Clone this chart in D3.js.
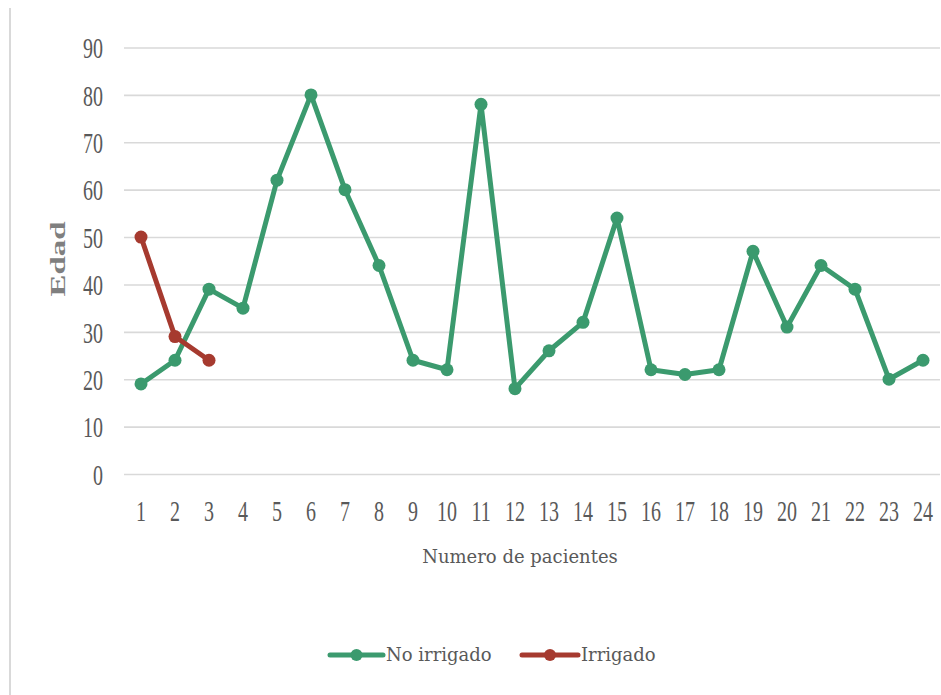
<!DOCTYPE html>
<html>
<head>
<meta charset="utf-8">
<script src="https://cdn.jsdelivr.net/npm/d3@7"></script>
<style>
  body { margin: 0; background: #fff; }
  .tick text { font-family: "Liberation Serif", serif; font-size: 20px; fill: #595959; }
  .axis-title { font-family: "DejaVu Serif", serif; font-size: 18px; fill: #595959; }
  .legend-label { font-family: "DejaVu Serif", serif; font-size: 18px; fill: #595959; }
</style>
</head>
<body>
<div id="chart"></div>
<script>
// Data
const patients = d3.range(1, 25).map(String);
const noIrrigado = [19, 24, 39, 35, 62, 80, 60, 44, 24, 22, 78, 18, 26, 32, 54, 22, 21, 22, 47, 31, 44, 39, 20, 24];
const irrigado = [50, 29, 24];
const yTicks = [0, 10, 20, 30, 40, 50, 60, 70, 80, 90];
const seriesNames = ["No irrigado", "Irrigado"];

// Setup
const width = 941, height = 695;
const plot = { left: 124, right: 940, top: 47.5, bottom: 474 };
const colors = { "No irrigado": "#3b9a6e", "Irrigado": "#a63a2f" };
const textScaleY = 1.5;

const svg = d3.select("#chart")
  .append("svg")
  .attr("width", width)
  .attr("height", height);

// Scales
const x = d3.scaleBand()
  .domain(patients)
  .range([plot.left, plot.right]);

const y = d3.scaleLinear()
  .domain([0, 90])
  .range([plot.bottom, plot.top]);

// Chart area left border
svg.append("line")
  .attr("x1", 10).attr("x2", 10)
  .attr("y1", 8).attr("y2", height)
  .attr("stroke", "#d9d9d9")
  .attr("stroke-width", 2);

// Y axis with gridlines
const yAxis = svg.append("g")
  .attr("transform", `translate(${plot.left}, 0)`)
  .call(d3.axisLeft(y)
    .tickValues(yTicks)
    .tickSize(-(plot.right - plot.left))
    .tickPadding(21));

yAxis.select(".domain").remove();
yAxis.selectAll(".tick line")
  .attr("stroke", "#d9d9d9")
  .attr("stroke-width", 1.6);
yAxis.selectAll(".tick text")
  .attr("transform", `scale(1, ${textScaleY})`)
  .attr("dy", "0.34em");

// X axis labels
const xAxis = svg.append("g")
  .attr("transform", `translate(0, ${plot.bottom})`)
  .call(d3.axisBottom(x).tickSize(0));

xAxis.select(".domain").remove();
xAxis.selectAll(".tick text")
  .attr("transform", `scale(1, ${textScaleY})`)
  .attr("y", 47 / textScaleY)
  .attr("dy", 0);

// Axis titles
svg.append("text")
  .attr("class", "axis-title")
  .attr("x", 520)
  .attr("y", 563)
  .attr("text-anchor", "middle")
  .text("Numero de pacientes");

svg.append("text")
  .attr("transform", "translate(65, 259) rotate(-90)")
  .attr("text-anchor", "middle")
  .attr("font-family", "Liberation Serif, serif")
  .attr("font-weight", "bold")
  .attr("font-size", 22)
  .attr("fill", "#7f7f7f")
  .attr("textLength", 75)
  .attr("lengthAdjust", "spacingAndGlyphs")
  .text("Edad");

// Lines + markers
const line = d3.line()
  .x((d, i) => x(patients[i]) + x.bandwidth() / 2)
  .y(d => y(d));

const series = [
  { name: "No irrigado", values: noIrrigado },
  { name: "Irrigado", values: irrigado }
];

series.forEach(s => {
  svg.append("path")
    .datum(s.values)
    .attr("fill", "none")
    .attr("stroke", colors[s.name])
    .attr("stroke-width", 5)
    .attr("stroke-linejoin", "round")
    .attr("d", line);

  svg.append("g")
    .selectAll("circle")
    .data(s.values)
    .join("circle")
    .attr("cx", (d, i) => x(patients[i]) + x.bandwidth() / 2)
    .attr("cy", d => y(d))
    .attr("r", 6.5)
    .attr("fill", colors[s.name]);
});

// Legend
const legendItems = [
  { name: seriesNames[0], x1: 330, x2: 383 },
  { name: seriesNames[1], x1: 522, x2: 578 }
];
const legendY = 655;

legendItems.forEach(item => {
  const g = svg.append("g");
  g.append("line")
    .attr("x1", item.x1).attr("x2", item.x2)
    .attr("y1", legendY).attr("y2", legendY)
    .attr("stroke", colors[item.name])
    .attr("stroke-width", 5)
    .attr("stroke-linecap", "round");
  g.append("circle")
    .attr("cx", (item.x1 + item.x2) / 2)
    .attr("cy", legendY)
    .attr("r", 6)
    .attr("fill", colors[item.name]);
  g.append("text")
    .attr("class", "legend-label")
    .attr("x", item.x2 + 3)
    .attr("y", legendY + 6)
    .text(item.name);
});
</script>
</body>
</html>
